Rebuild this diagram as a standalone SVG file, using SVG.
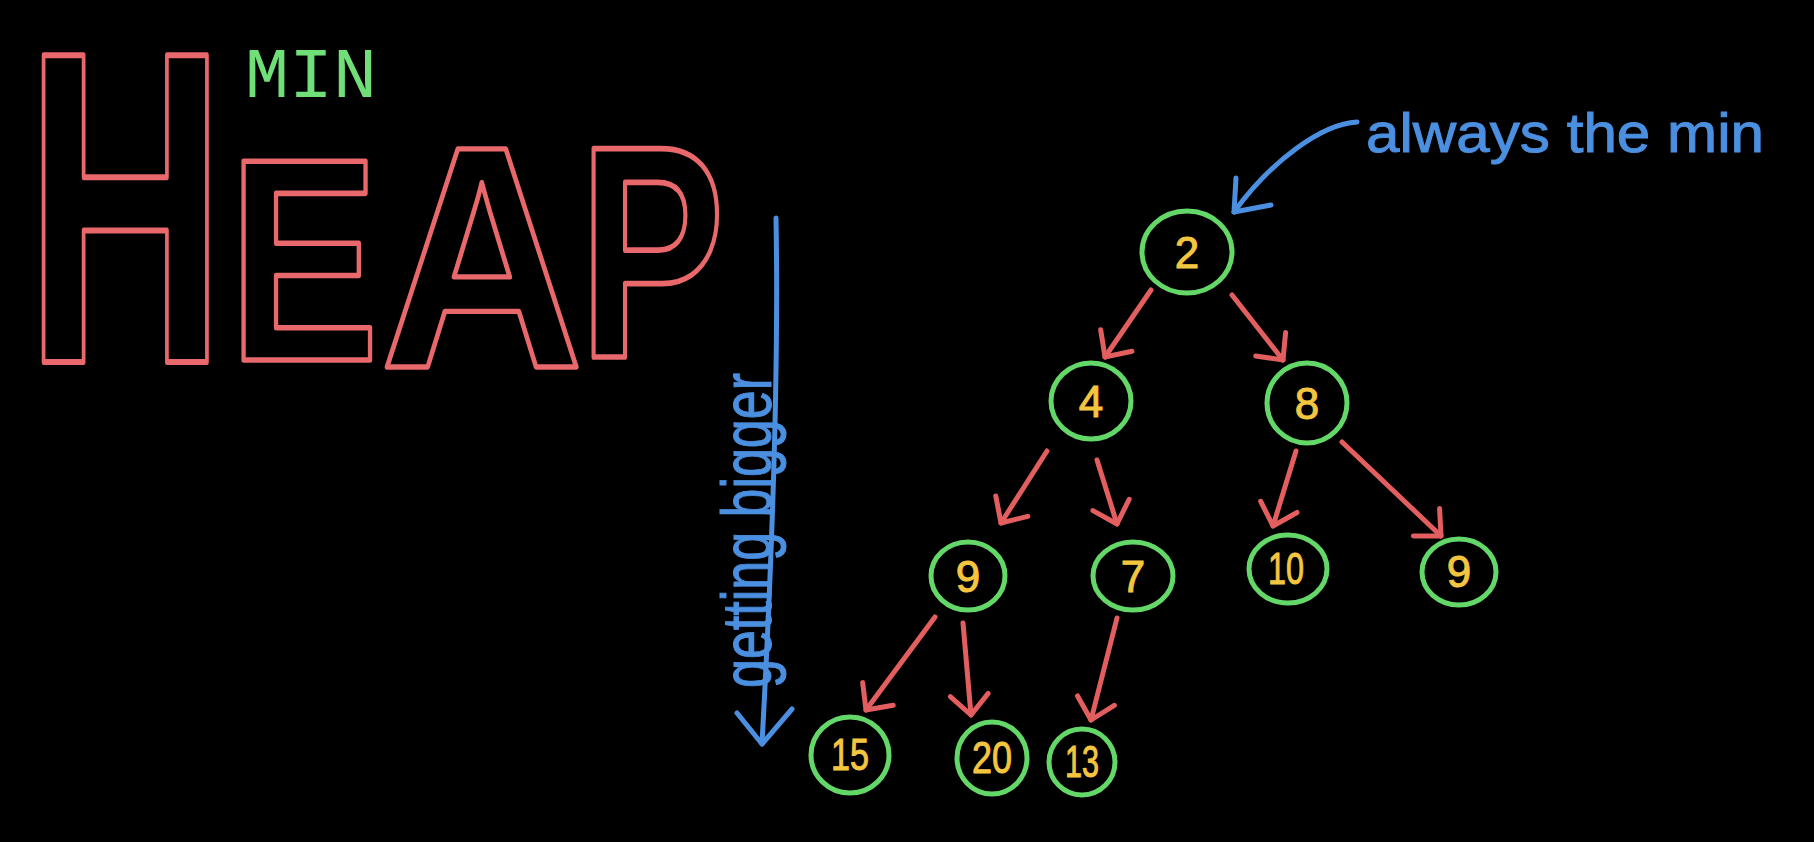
<svg xmlns="http://www.w3.org/2000/svg" width="1814" height="842" viewBox="0 0 1814 842">
  <style>
    .letter { fill: none; stroke: #e8686b; stroke-width: 5; stroke-linejoin: round; font-family: "Liberation Sans", Arial, sans-serif; font-weight: bold; }
    .node ellipse { fill: none; stroke: #63d767; stroke-width: 5; }
    .num { fill: #f4c63f; stroke: #f4c63f; stroke-width: 1; font-family: "Liberation Sans", Arial, sans-serif; font-size: 44px; text-anchor: middle; }
    .edge { fill: none; stroke: #e35f5f; stroke-width: 5; stroke-linecap: round; marker-end: url(#ah); }
    .blue { fill: none; stroke: #4b8fe0; stroke-width: 5; stroke-linecap: round; stroke-linejoin: round; }
    .bluetext { fill: #4b8fe0; stroke: #4b8fe0; stroke-width: 1; font-family: "Liberation Sans", Arial, sans-serif; }
  </style>
  <defs>
    <marker id="ah" markerUnits="userSpaceOnUse" markerWidth="40" markerHeight="50" viewBox="-30 -25 40 50" refX="0" refY="0" orient="auto" overflow="visible">
      <path d="M-20,-19 L0,0 L-20,19" fill="none" stroke="#e35f5f" stroke-width="5" stroke-linecap="round" stroke-linejoin="round"/>
    </marker>
  </defs>
  <rect x="0" y="0" width="1814" height="842" fill="#000"/>

  <g id="title">
    <text x="245" y="97" font-family="'Liberation Mono', 'DejaVu Sans Mono', monospace" font-size="70" fill="#70df78" textLength="132" lengthAdjust="spacingAndGlyphs">MIN</text>
    <text class="letter" font-size="446" vector-effect="non-scaling-stroke" transform="translate(25,362) scale(0.623,1)">H</text>
    <text class="letter" font-size="289" vector-effect="non-scaling-stroke" transform="translate(228.5,360) scale(0.78,1)">E</text>
    <text class="letter" font-size="317" vector-effect="non-scaling-stroke" transform="translate(380,367) scale(0.89,1)">A</text>
    <text class="letter" font-size="303" vector-effect="non-scaling-stroke" transform="translate(579,357) scale(0.72,1)">P</text>
  </g>

  <g id="annotation-min">
    <path class="blue" d="M1357,122 C1322,124 1272,160 1234,212"/>
    <path class="blue" d="M1236,178 L1234,212 L1271,205"/>
    <text class="bluetext" x="1366" y="152" font-size="56" textLength="398" lengthAdjust="spacingAndGlyphs">always the min</text>
  </g>

  <g id="annotation-bigger">
    <path class="blue" d="M776,218 C779,380 772,560 762,744"/>
    <path class="blue" d="M737,713 L762,744 L792,709"/>
    <text class="bluetext" font-size="70" textLength="315" lengthAdjust="spacingAndGlyphs" transform="translate(771,688) rotate(-90)">getting bigger</text>
  </g>

  <g id="connectors">
    <path class="edge" d="M1151,290 L1105,357"/>
    <path class="edge" d="M1232,295 L1283,360"/>
    <path class="edge" d="M1047,451 L1001,523"/>
    <path class="edge" d="M1097,460 L1117,524"/>
    <path class="edge" d="M1296,451 L1273,526"/>
    <path class="edge" d="M1342,442 L1441,536"/>
    <path class="edge" d="M935,617 L866,710"/>
    <path class="edge" d="M963,623 L971,715"/>
    <path class="edge" d="M1117,618 L1091,720"/>
  </g>

  <g id="node-2" class="node"><ellipse cx="1187" cy="252" rx="45" ry="41"/><text class="num" x="1187" y="268">2</text></g>
  <g id="node-4" class="node"><ellipse cx="1091" cy="401" rx="40" ry="38"/><text class="num" x="1091" y="417">4</text></g>
  <g id="node-8" class="node"><ellipse cx="1307" cy="403" rx="40" ry="40"/><text class="num" x="1307" y="419">8</text></g>
  <g id="node-9a" class="node"><ellipse cx="968" cy="576" rx="37" ry="34"/><text class="num" x="968" y="592">9</text></g>
  <g id="node-7" class="node"><ellipse cx="1133" cy="576" rx="40" ry="34"/><text class="num" x="1133" y="592">7</text></g>
  <g id="node-10" class="node"><ellipse cx="1288" cy="569" rx="39" ry="34"/><text class="num" x="1286" y="584" font-size="42" textLength="36" lengthAdjust="spacingAndGlyphs">10</text></g>
  <g id="node-9b" class="node"><ellipse cx="1459" cy="572" rx="37" ry="33"/><text class="num" x="1459" y="587">9</text></g>
  <g id="node-15" class="node"><ellipse cx="850" cy="755" rx="39" ry="38"/><text class="num" x="850" y="770" font-size="42" textLength="38" lengthAdjust="spacingAndGlyphs">15</text></g>
  <g id="node-20" class="node"><ellipse cx="992" cy="758" rx="35" ry="36"/><text class="num" x="992" y="773" font-size="42" textLength="40" lengthAdjust="spacingAndGlyphs">20</text></g>
  <g id="node-13" class="node"><ellipse cx="1082" cy="762" rx="33" ry="33"/><text class="num" x="1082" y="777" font-size="40" textLength="34" lengthAdjust="spacingAndGlyphs">13</text></g>
</svg>
